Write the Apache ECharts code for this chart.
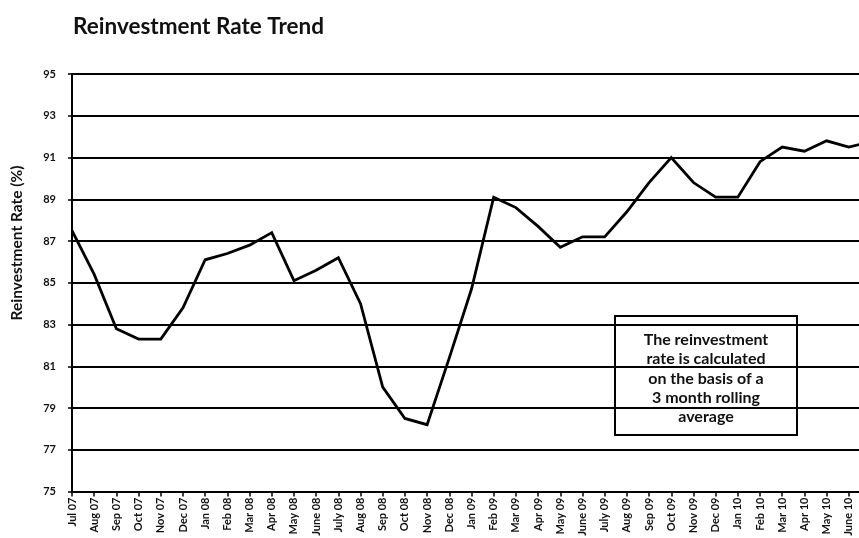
<!DOCTYPE html>
<html>
<head>
<meta charset="utf-8">
<title>Reinvestment Rate Trend</title>
<script src="https://cdn.jsdelivr.net/npm/echarts@6/dist/echarts.min.js"></script>
<style>
  html, body { margin: 0; padding: 0; background: #ffffff; }
  #chart { width: 859px; height: 538px; }
</style>
</head>
<body>
<div id="chart"></div>
<script>
// Monthly categories (the last month sits just past the right edge of the plot)
const months = [
  'Jul 07', 'Aug 07', 'Sep 07', 'Oct 07', 'Nov 07', 'Dec 07',
  'Jan 08', 'Feb 08', 'Mar 08', 'Apr 08', 'May 08', 'June 08',
  'July 08', 'Aug 08', 'Sep 08', 'Oct 08', 'Nov 08', 'Dec 08',
  'Jan 09', 'Feb 09', 'Mar 09', 'Apr 09', 'May 09', 'June 09',
  'July 09', 'Aug 09', 'Sep 09', 'Oct 09', 'Nov 09', 'Dec 09',
  'Jan 10', 'Feb 10', 'Mar 10', 'Apr 10', 'May 10', 'June 10',
  'July 10'
];

// Reinvestment rate (%), 3 month rolling average
const reinvestmentRate = [
  87.5, 85.4, 82.8, 82.3, 82.3, 83.8,
  86.1, 86.4, 86.8, 87.4, 85.1, 85.6,
  86.2, 84.0, 80.0, 78.5, 78.2, 81.4,
  84.7, 89.1, 88.6, 87.7, 86.7, 87.2,
  87.2, 88.4, 89.8, 91.0, 89.8, 89.1,
  89.1, 90.8, 91.5, 91.3, 91.8, 91.5,
  91.75
];

// Value axis ticks
const yTicks = [75, 77, 79, 81, 83, 85, 87, 89, 91, 93, 95];

const titleText = 'Reinvestment Rate Trend';
const yAxisTitle = 'Reinvestment Rate (%)';
const noteLines = [
  'The reinvestment',
  'rate is calculated',
  'on the basis of a',
  '3 month rolling',
  'average'
];

const FONT = 'Lato, "Open Sans", sans-serif';

const chart = echarts.init(document.getElementById('chart'), null, { renderer: 'canvas' });

chart.setOption({
  backgroundColor: '#ffffff',
  animation: false,
  title: {
    text: titleText,
    left: 68,
    top: 10,
    textStyle: { fontFamily: FONT, fontWeight: 'bold', fontSize: 22.5, color: '#111111' }
  },
  grid: {
    left: 72, right: -12, top: 74, bottom: 46.5,
    containLabel: false,
    outerBoundsMode: 'none'
  },
  xAxis: {
    type: 'category',
    data: months,
    boundaryGap: false,
    axisLine: { show: true, lineStyle: { color: '#000000', width: 2 } },
    axisTick: { show: true, length: 5, alignWithLabel: true, lineStyle: { color: '#000000', width: 1.5 } },
    axisLabel: {
      interval: 0,
      rotate: 90,
      margin: 6,
      hideOverlap: false,
      fontFamily: FONT,
      fontWeight: 'bold',
      fontSize: 11,
      color: '#111111'
    },
    splitLine: { show: false }
  },
  yAxis: {
    type: 'value',
    min: yTicks[0],
    max: yTicks[yTicks.length - 1],
    interval: yTicks[1] - yTicks[0],
    axisLine: { show: true, lineStyle: { color: '#000000', width: 2 } },
    axisTick: { show: true, length: 4, lineStyle: { color: '#000000', width: 1.5 } },
    axisLabel: {
      margin: 16,
      fontFamily: FONT,
      fontWeight: 'bold',
      fontSize: 11,
      color: '#111111'
    },
    splitLine: { show: true, lineStyle: { color: '#000000', width: 1.8 } }
  },
  series: [{
    type: 'line',
    data: reinvestmentRate,
    symbol: 'none',
    lineStyle: { color: '#000000', width: 2.8, join: 'miter' },
    z: 3
  }],
  graphic: [
    {
      type: 'text',
      x: 17,
      y: 243,
      rotation: Math.PI / 2,
      style: {
        text: yAxisTitle,
        fontFamily: FONT,
        fontWeight: 'bold',
        fontSize: 15.5,
        fill: '#111111',
        textAlign: 'center',
        textVerticalAlign: 'middle'
      }
    },
    {
      type: 'group',
      z: 10,
      children: [
        {
          type: 'rect',
          shape: { x: 615, y: 316, width: 182, height: 119 },
          style: { fill: '#ffffff', stroke: '#000000', lineWidth: 2 }
        },
        {
          type: 'text',
          x: 706,
          y: 378.5,
          style: {
            text: noteLines.join('\n'),
            fontFamily: FONT,
            fontWeight: 'bold',
            fontSize: 16,
            lineHeight: 19.3,
            fill: '#111111',
            textAlign: 'center',
            textVerticalAlign: 'middle'
          }
        }
      ]
    }
  ]
});
</script>
</body>
</html>
